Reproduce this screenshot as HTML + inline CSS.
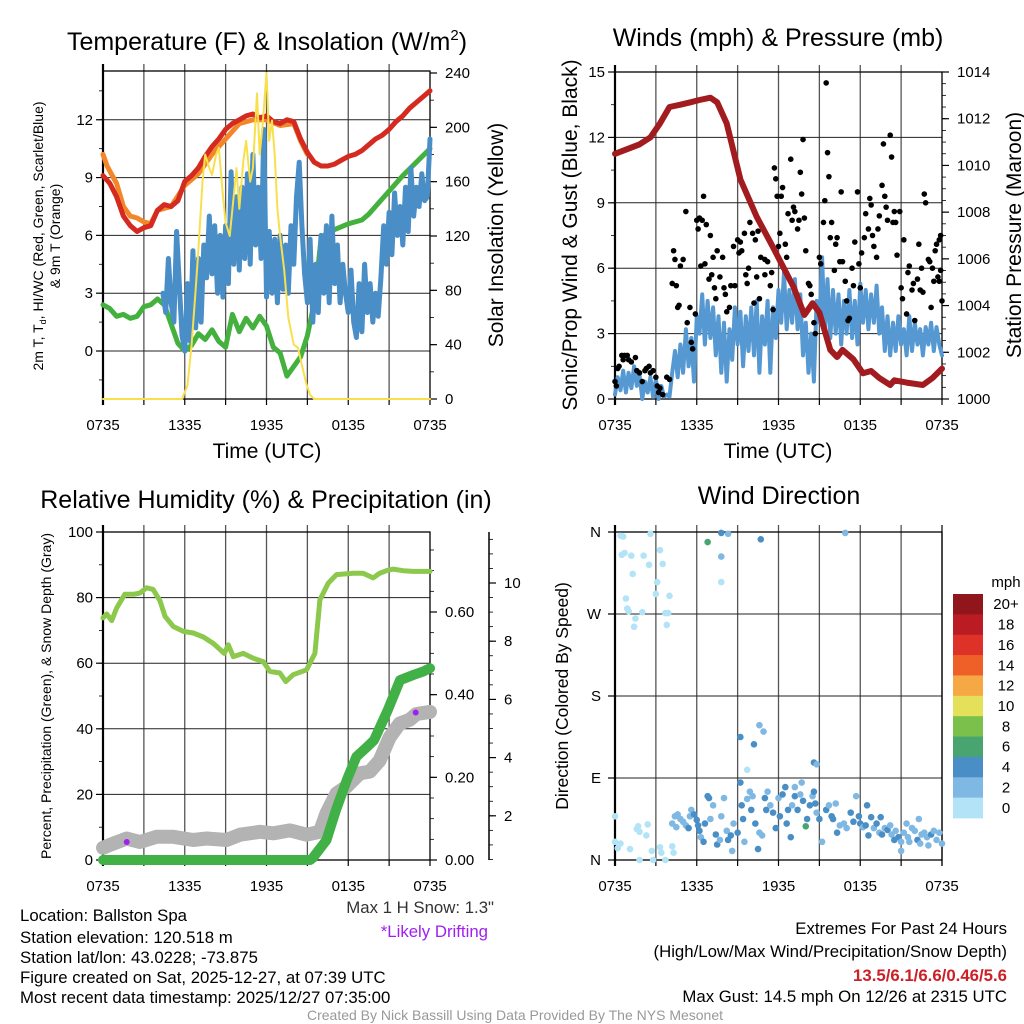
<!DOCTYPE html>
<html><head><meta charset="utf-8"><title>Ballston Spa Meteogram</title>
<style>
html,body{margin:0;padding:0;background:#fff;}
svg{display:block;font-family:"Liberation Sans",Arial,sans-serif;}
</style></head>
<body>
<svg id="chart" xmlns="http://www.w3.org/2000/svg" width="1024" height="1024" viewBox="0 0 1024 1024">
<rect x="0" y="0" width="1024" height="1024" fill="#fff"/>
<g id="layer"></g>
<g font-size="16.8" fill="#000">
<text x="20" y="921">Location: Ballston Spa</text>
<text x="20" y="943">Station elevation: 120.518 m</text>
<text x="20" y="963">Station lat/lon: 43.0228; -73.875</text>
<text x="20" y="983">Figure created on Sat, 2025-12-27, at 07:39 UTC</text>
<text x="20" y="1003">Most recent data timestamp: 2025/12/27 07:35:00</text>
<text x="494" y="913" text-anchor="end" fill="#333">Max 1 H Snow: 1.3"</text>
<text x="488" y="937" text-anchor="end" fill="#a020f0">*Likely Drifting</text>
<text x="1007" y="934" text-anchor="end">Extremes For Past 24 Hours</text>
<text x="1007" y="957" text-anchor="end">(High/Low/Max Wind/Precipitation/Snow Depth)</text>
<text x="1007" y="981" text-anchor="end" fill="#cc1f26" font-weight="bold">13.5/6.1/6.6/0.46/5.6</text>
<text x="1007" y="1002" text-anchor="end">Max Gust: 14.5 mph On 12/26 at 2315 UTC</text>
<text x="515" y="1020" text-anchor="middle" font-size="14" fill="#999">Created By Nick Bassill Using Data Provided By The NYS Mesonet</text>
</g>
</svg>
<script>
// ---------- DATA ----------
const timeTickLabels = ["0735","1335","1935","0135","0735"];
// Panel 1
const tempTicks = [0,3,6,9,12];
const solarTicks = [0,40,80,120,160,200,240];
const redHours = [0,0.5,1,1.5,2,2.5,3,3.5,4,4.5,5,5.5,6,6.5,7,7.5,8,8.5,9,9.5,10,10.5,11,11.5,12,12.5,13,13.5,14,14.5,15,15.5,16,16.5,17,17.5,18,18.5,19,19.5,20,20.5,21,21.5,22,22.5,23,23.5,24];
const redTemp = [9.1,8.7,8.0,7.0,6.5,6.2,6.4,6.5,7.3,7.6,7.5,7.8,8.8,9.1,9.5,10.1,10.6,11.0,11.5,11.8,12.0,12.2,12.3,12.1,12.2,11.9,11.8,12.0,11.9,11.0,10.3,9.8,9.6,9.6,9.7,9.9,10.1,10.2,10.4,10.7,11.0,11.2,11.5,11.9,12.2,12.6,12.9,13.2,13.5];
const orangeHours = [0,0.3,0.6,1,1.5,2,2.5,3,3.5,4,5,6,7,8,9,10,11,12,13,14,14.5,15];
const orangeTemp = [10.2,9.6,9.2,8.7,7.5,7.0,6.9,6.7,6.6,7.3,7.5,8.6,9.2,10.2,11.0,11.8,12.0,12.0,11.7,11.8,10.9,10.2];
const greenHours = [0,0.5,1,1.5,2,2.5,3,3.5,4,4.5,5,5.5,6,6.5,7,7.5,8,8.5,9,9.5,10,10.5,11,11.5,12,12.5,13,13.5,14,14.5,15,15.5,16,16.5,17,18,19,19.5,20,21,22,23,24];
const greenTemp = [2.4,2.2,1.8,1.9,1.7,1.8,2.3,2.4,2.7,2.4,1.4,0.4,0.0,0.3,0.9,0.6,1.1,0.5,0.2,1.9,1.0,1.7,1.2,1.8,1.3,0.2,-0.1,-1.3,-0.8,-0.3,0.8,2.5,5.8,6.2,6.3,6.6,6.8,7.1,7.5,8.3,9.1,9.8,10.5];
const blueStart = 4.4, blueStep = 0.2;
const blueTemp = [3,2,4.8,2.5,1.5,6.2,3.5,0.8,0,3.5,0.5,5.2,1.2,4.8,1.5,5.5,3.8,7,4,6.5,3,6,2.8,6.5,3.5,9.3,4.5,8,4.2,8.5,4.8,9.2,4.5,10.2,5.5,8.5,4.8,11.5,2.8,6.2,3,5.8,2.5,6,3.2,5.5,3,6.5,4.5,8,9.8,6.5,4,2.5,5.8,1.5,4.5,2,6,3,6.5,2.5,7,3.5,5.5,2.5,4.5,3,2,4.2,1.5,0.7,3.5,1,4.5,2,3.5,1.5,3,1.8,3.8,6.5,4.5,7.2,5,8.2,6,7.5,5.5,8.5,6.2,9.5,7,8.5,7.5,9.2,7.8,8,11];
const solarHours = [0,5.8,6.2,6.5,6.8,7.0,7.3,7.5,7.8,8.0,8.3,8.5,8.8,9.0,9.3,9.6,9.8,10.0,10.3,10.5,10.8,11.0,11.3,11.5,11.7,12.0,12.2,12.4,12.6,12.8,13.0,13.3,13.6,14.0,14.3,14.6,14.9,15.2,15.5,24];
const solarVals = [0,0,10,40,80,110,160,180,170,165,180,185,150,130,120,150,170,140,175,190,160,170,225,180,200,240,190,205,180,140,120,95,60,40,38,25,12,3,0,0];
// Panel 2
const windTicks = [0,3,6,9,12,15];
const presTicks = [1000,1002,1004,1006,1008,1010,1012,1014];
const presHours = [0,1.8,2.6,3.3,4.0,4.8,5.5,6.2,7.0,7.5,8.2,9.2,10.4,11.6,13.1,13.9,14.5,15.0,15.8,16.3,16.7,17.5,18.2,18.8,19.4,20.2,20.5,21.4,22.6,23.3,24];
const presVals = [1010.5,1010.9,1011.2,1011.8,1012.5,1012.6,1012.7,1012.8,1012.9,1012.7,1011.8,1009.4,1007.8,1006.5,1004.8,1003.6,1004.1,1003.7,1002.1,1001.8,1002.1,1001.7,1001.1,1001.2,1000.9,1000.6,1000.8,1000.7,1000.6,1000.9,1001.3];
const windStart = 0, windStep = 0.2;
const windVals = [0.2,1,0.4,1.3,0.3,1.2,0.5,1.5,0.6,1.1,0,0.8,0.3,1,0.1,0.9,0,0.6,0.1,0.2,0.1,1.2,2.2,1,2.5,1.2,3.2,1.5,2.8,0.8,3.8,3,4.8,2.5,4.5,2.8,4.2,2,3.8,1.2,3.5,0.8,3.2,1.8,4.2,2.5,4,1.5,3.8,2.2,4.2,2,4.5,1.2,3.8,2.5,4.5,1.2,4.2,2.8,5,3.5,5.8,3.2,5,3.5,5.5,3.2,4.8,2,3.5,1.2,3,0.8,4.5,3.5,6.5,3,5.5,2.8,5,3,4.8,2.5,4.5,3,5,2.8,4.5,2.5,5.3,3.5,5,3.2,4.8,3.5,5.2,3,4.2,2.2,3.8,2,3.5,2.2,3.8,2.5,3.2,2,3.8,2.2,3.5,2.5,3.2,2,3.3,2.5,3.5,2.2,3.3,2.5,2];
const gustHours = [0,0.1,0.2,0.3,0.5,0.6,0.7,0.9,1,1.2,1.5,1.6,1.8,2,2.2,2.3,2.5,2.6,2.8,3,3.1,3.2,3.3,3.5,3.8,4,4.2,4.3,4.4,4.5,4.6,4.7,4.8,5.0,5.2,5.3,5.5,5.6,5.7,5.9,6,6.1,6.2,6.3,6.4,6.5,6.6,6.7,6.9,7,7.1,7.2,7.3,7.4,7.5,7.7,7.9,8.0,8.1,8.2,8.4,8.5,8.7,8.8,9,9.1,9.2,9.3,9.5,9.6,9.7,9.8,9.9,10.1,10.2,10.3,10.4,10.5,10.6,10.7,10.8,11,11,11.2,11.4,11.5,11.6,11.7,11.8,11.9,12,12.1,12.2,12.3,12.5,12.6,12.7,12.9,13,13.1,13.2,13.4,13.5,13.6,13.7,13.8,13.9,14,14.2,14.3,14.4,14.6,14.7,15,15.1,15.3,15.4,15.5,15.6,15.7,15.8,15.9,16.1,16.2,16.3,16.5,16.6,16.7,16.9,17,17.1,17.2,17.4,17.5,17.6,17.8,17.9,18,18.1,18.3,18.4,18.6,18.7,18.8,18.9,19,19.2,19.3,19.4,19.6,19.7,19.8,19.9,20,20.2,20.3,20.4,20.5,20.6,20.7,20.9,21,21.1,21.2,21.4,21.5,21.6,21.8,21.9,22.0,22.2,22.3,22.4,22.5,22.6,22.7,22.8,23,23.1,23.2,23.3,23.4,23.5,23.6,23.7,23.8,23.9,24,23.9,23.8];
const gustVals = [0.8,0.6,1.4,1.5,2,1.8,2,2,1.8,1.7,1.9,1.3,1.2,0.8,1.3,1.4,1.5,1.2,1.3,1,0.6,0.3,0.5,0.2,1,0.9,5.3,6.8,6.4,5.2,4.2,4.3,6.1,6.4,8.6,3.5,4.2,2.6,2.3,3.9,8.2,7.8,8.3,6.1,8.2,9.3,6.2,8,5.5,7.5,5.7,6.5,5.1,4.6,6.8,5.6,6.5,5.1,4.8,4,4.2,5.2,7,5.2,7.3,6.7,7.2,6.8,7.6,5.7,5.3,6,8.1,7.6,4.4,7.3,5.6,7.7,4.6,6.5,7.9,5.7,6.4,6.3,5.2,5.8,4.1,10.6,10.1,9.3,7,7.6,9.3,9.7,7.1,6.5,8.5,11,8.2,8.8,8.6,7.8,8.2,10.4,9.4,11.9,8.3,6.8,5.3,5.2,4.8,3.5,3,6.5,6.2,8.1,9.1,14.5,11.3,10.2,7.4,8.1,5.9,7.1,7.4,6.3,9.5,6.3,5.4,4.5,3.6,3.7,6,5.2,7.2,9.5,6.2,5.1,6.7,7.4,8.5,7.8,9.2,8.9,7.5,7,6.5,7.8,8.4,9.8,11.7,9.3,8.8,8.2,12.1,11.1,8.1,8.6,8.1,6.6,8.6,5.1,4.6,7.3,3.9,5.8,6.1,5,5.3,3.6,5.5,7.1,5,6,4.9,9.4,9,6.4,6.3,4.2,6,5.4,6.8,7.1,5.6,7.3,5.9,4.5,7.5,5.4];
// Panel 3
const rhTicks = [0,20,40,60,80,100];
const precipTicks = [0,0.2,0.4,0.6];
const precipTickLabels = ["0.00","0.20","0.40","0.60"];
const snowTicks = [2,4,6,8,10];
const rhHours = [0,0.27,0.64,1.0,1.6,2.25,2.71,3.2,3.68,4.18,4.55,5.16,5.9,6.63,7.37,8.1,8.9,9.2,9.56,10.29,11.03,11.76,12.25,12.98,13.42,13.96,14.94,15.55,15.92,16.53,17.14,18.36,19.09,19.83,20.3,20.8,21.3,22.03,22.76,24];
const rhVals = [73.8,75,73,76.8,81,81,81.4,83,82.5,79,74.3,71.2,69.7,69.2,68,66,63,65.6,62,63,61.5,60.5,57.5,57,54.4,56.5,58,63,79.3,84.4,87,87.4,87.4,86,87.4,88.2,88.7,88.2,88,88];
const precipHours = [0,15.2,15.4,16.4,17.1,17.9,18.6,19.4,19.9,20.9,21.8,22.8,23.5,24];
const precipVals = [0,0,0.005,0.048,0.121,0.194,0.25,0.274,0.29,0.363,0.435,0.448,0.456,0.464];
const snowHours = [0,0.5,1.74,2.71,3.93,5.16,6.62,7.6,9.07,10.05,11.52,12.5,13.72,14.94,15.92,16.4,17.14,17.87,18.85,19.58,20.3,21.04,21.77,22.5,23.0,24];
const snowVals = [0.9,1.0,1.22,1.1,1.28,1.28,1.17,1.22,1.17,1.35,1.45,1.4,1.5,1.35,1.45,2.08,2.77,3.0,3.46,3.52,3.9,4.7,5.17,5.3,5.5,5.57];
const driftHours = [1.74,22.95];
const driftVals = [1.1,5.55];
// Panel 4
const dirLabels = ["N","E","S","W","N"];
const dirTicks = [0,90,180,270,360];
const speedBins = ["0","2","4","6","8","10","12","14","16","18","20+"];
const speedColors = ["#b3e3f7","#7fb8e3","#4a8ec6","#48a56f","#7bc04b","#e4e05a","#f5a843","#ef6029","#de3127","#bb1c24","#90161b"];
const dirHours = [0.4,0.6,2.6,0.5,0.7,1.2,2.1,3.3,1.3,2.5,3.5,3.1,3.0,4.0,0.8,0.9,1.0,2.0,1.5,1.4,3.7,3.9,3.8,0,0,0.4,0.2,1.1,1.8,2.8,3.7,1.7,1.8,2.4,2.3,3.3,3.4,4.2,4.3,2.7,1.6,
4.2,4.4,4.6,4.5,4.8,5.0,5.2,5.4,5.5,5.6,5.8,6.0,6.1,6.2,6.3,6.5,6.6,6.8,6.9,7.0,7.2,7.4,7.5,7.7,7.8,8.0,8.2,8.3,8.5,8.6,8.7,9.0,9.2,9.3,9.4,9.5,9.7,9.9,10.0,10.1,10.3,10.5,10.6,10.8,11.0,11.1,11.2,11.4,11.6,11.8,12.0,12.1,12.3,12.5,12.6,12.7,12.9,13.0,13.2,13.4,13.6,13.7,13.8,14.1,14.3,14.5,14.6,14.7,14.8,15.0,15.2,15.5,15.7,15.9,16.0,16.2,16.3,16.5,16.8,17.0,17.3,17.5,17.7,17.9,18.0,18.2,18.4,18.5,18.6,18.8,19.0,19.2,19.4,19.5,19.6,19.8,20.0,20.2,20.3,20.5,20.6,20.8,21.0,21.2,21.4,21.5,21.6,21.8,22.0,22.2,22.4,22.5,22.7,22.9,23.0,23.2,23.4,23.6,23.8,24,21.0,22.3,
13.2,14.0,6.8,7.8,8.3,10.7,7.8,7.8,16.9,10.6,10.9,9.2,10.2,14.6,9.7,14.8];
const dirDegs = [356,355,358,335,337,334,334,340,314,324,325,305,292,290,287,276,273,272,265,256,271,271,258,48,20,18,13,12,0,0,0,37,31,39,27,14,8,15,8,10,34,
40,48,50,36,45,42,38,35,48,55,50,44,38,32,25,20,40,70,68,45,60,28,17,22,48,68,32,22,27,10,40,30,85,60,45,20,67,75,55,70,40,12,30,27,68,55,75,60,52,35,68,48,72,80,40,55,25,60,70,55,72,85,65,45,60,70,75,62,52,45,20,55,60,48,45,62,30,38,40,35,52,42,70,48,40,36,38,60,27,47,35,40,30,47,28,35,33,38,28,22,32,25,20,30,40,25,20,35,32,22,18,28,30,25,16,28,32,22,30,18,10,45,
80,37,349,359,358,352,333,305,359,148,141,135,127,107,99,105];
const dirSpeeds = [0.5,0.5,0.5,0.5,0.5,0.5,0.5,0.5,0.5,0.5,0.5,0.5,0.5,0.5,0.5,0.5,0.5,0.5,0.5,0.5,0.5,0.5,0.5,0.5,0.5,0.5,0.5,0.5,0.5,0.5,0.5,0.5,0.5,0.5,0.5,0.5,0.5,0.5,0.5,0.5,0.5,
2,2,2.5,2,2,1.5,2,3.5,2,2,3.5,3.5,3.5,3.5,2,3.5,3.5,3.5,3.5,1.5,2,3.5,3.5,2,2,2,2,3.5,3.5,2,2,3.5,3.5,3.5,3.5,2,2,2,3.5,2,3.5,3.5,2,2,3.5,3.5,2,2,3.5,3.5,2,3.5,3.5,3.5,3.5,3.5,3.5,2,3.5,3.5,2,2,3.5,3.5,3.5,2,3.5,3.5,2,3.5,2,3.5,2,3.5,3.5,2,3.5,2,2,2,3.5,3.5,2,3.5,3.5,2,3.5,3.5,3.5,3.5,2,3.5,2,3.5,3.5,2,3.5,2,2,3.5,2,3.5,2,2,2,2,2,2,2,3.5,2,2,2,2,2,3.5,2,2,2,2,2,2,2,
5.5,5.5,3.5,2,3.5,2,0.5,2,2,2,3.5,3.5,3.5,0.5,2,0.5];

// ---------- HELPERS ----------
const NS = "http://www.w3.org/2000/svg";
const layer = document.getElementById("layer");
function mk(tag, attrs, parent) {
  const e = document.createElementNS(NS, tag);
  for (const k in attrs) e.setAttribute(k, attrs[k]);
  (parent || layer).appendChild(e);
  return e;
}
function txt(x, y, s, size, anchor, parent) {
  const t = mk("text", {x: x, y: y, "font-size": size, "text-anchor": anchor || "middle", fill: "#000"}, parent);
  t.textContent = s;
  return t;
}
function timeScale(p) { return h => p.x0 + h / 24 * (p.x1 - p.x0); }
function linScale(p, lo, hi) { return v => p.y1 - (v - lo) / (hi - lo) * (p.y1 - p.y0); }
function pathD(xs, ys, fx, fy) {
  let d = "";
  for (let i = 0; i < xs.length; i++) d += (i ? "L" : "M") + fx(xs[i]).toFixed(1) + "," + fy(ys[i]).toFixed(1);
  return d;
}
function seqHours(start, step, n) { const a = []; for (let i = 0; i < n; i++) a.push(start + i * step); return a; }

function frame(p, name, hGrid) {
  const g = mk("g", {});
  
  
  const fx = timeScale(p);
  for (let h = 3; h < 24; h += 3) {
    const gl = mk("line", {x1: fx(h), x2: fx(h), y1: p.y0 - 7, y2: p.y1, stroke: "#555", "stroke-width": 1.3}, g);
    
    
  }
  hGrid.forEach(y => {
    const hl = mk("line", {x1: p.x0, x2: p.x1, y1: y, y2: y, stroke: "#222", "stroke-width": 1}, g);
    
    
  });
  for (let h = 0; h <= 24; h += 3) {
    const tk = mk("line", {x1: fx(h), x2: fx(h), y1: p.y1, y2: p.y1 + 6, stroke: "#000", "stroke-width": 1.2}, g);
    
    
  }
  timeTickLabels.forEach((s, i) => {
    const t = txt(fx(i * 6), p.y1 + 31, s, 15, "middle", g);
    
    
  });
  const box = mk("rect", {x: p.x0, y: p.y0, width: p.x1 - p.x0, height: p.y1 - p.y0, fill: "none", stroke: "#000", "stroke-width": 1.3}, g);
  
  
  const lt = mk("line", {x1: p.x0, x2: p.x0, y1: p.y0 - 7, y2: p.y1 + 6, stroke: "#000", "stroke-width": 2.2}, g);
  
  
  return g;
}
function yTicks(g, x, vals, fy, labels, dir, minorStep, lo, hi, labelDx) {
  vals.forEach((v, i) => {
    const y = fy(v);
    const tk = mk("line", {x1: x, x2: x + dir * 7, y1: y, y2: y, stroke: "#000", "stroke-width": 1.2}, g);
    
    
    const t = txt(x + labelDx, y + 5, labels[i], 15, dir < 0 ? "end" : "start", g);
    
    
  });
  if (minorStep) {
    for (let v = lo; v <= hi + 1e-9; v += minorStep) {
      const y = fy(v);
      const mt = mk("line", {x1: x, x2: x + dir * 4, y1: y, y2: y, stroke: "#000", "stroke-width": 0.8}, g);
      
      
    }
  }
}
function series(d, color, w, name, parent) {
  const e = mk("path", {d: d, fill: "none", stroke: color, "stroke-width": w, "stroke-linejoin": "round", "stroke-linecap": "round"}, parent);
  
  
  return e;
}
function title(x, y, s, size, name) {
  const t = txt(x, y, s, size, "middle");
  
  
  return t;
}
function vtitle(x, y, s, size, name) {
  const t = mk("text", {x: 0, y: 0, "font-size": size, "text-anchor": "middle", fill: "#000", transform: "translate(" + x + "," + y + ") rotate(-90)"});
  t.textContent = s;
  
  
  return t;
}

// ---------- PANEL 1 ----------
const P1 = {x0: 103, x1: 430, y0: 71, y1: 399};
const fx1 = timeScale(P1);
const fyT = linScale(P1, -2.49, 14.53);
const fyS = linScale(P1, 0, 240 * 328 / 326);
const g1 = frame(P1, "temperature", tempTicks.map(fyT));
yTicks(g1, P1.x0, tempTicks, fyT, tempTicks.map(String), -1, 1.5, -1.5, 14, -10);
yTicks(g1, P1.x1, solarTicks, fyS, solarTicks.map(String), 1, 20, 0, 240, 15);
const s1 = mk("g", {});


series(pathD(orangeHours, orangeTemp, fx1, fyT), "#f4862a", 5, "line-9m-temp", s1);
series(pathD(redHours, redTemp, fx1, fyT), "#d42a20", 5, "line-2m-temp", s1);
series(pathD(greenHours, greenTemp, fx1, fyT), "#44b13f", 5, "line-dewpoint", s1);
series(pathD(seqHours(blueStart, blueStep, blueTemp.length), blueTemp, fx1, fyT), "#4a8ec8", 5, "line-windchill", s1);
series(pathD(solarHours, solarVals, fx1, fyS), "#f8e04c", 2, "line-solar-insolation", s1);
const tt1 = mk("text", {x: 267, y: 50, "font-size": 25, "text-anchor": "middle", fill: "#000"});


tt1.innerHTML = 'Temperature (F) &amp; Insolation (W/m<tspan font-size="15" dy="-10">2</tspan><tspan dy="10">)</tspan>';
title(267, 458, "Time (UTC)", 21, "temperature-x-axis-title");
const yt1 = mk("text", {x: 0, y: 0, "font-size": 14, "text-anchor": "middle", fill: "#000", transform: "translate(43,236) rotate(-90)"});


yt1.innerHTML = '2m T, T<tspan font-size="9" dy="3">d</tspan><tspan dy="-3">, HI/WC (Red, Green, Scarlet/Blue)</tspan>';
vtitle(60, 236, "& 9m T (Orange)", 14, "temperature-y-axis-title-line2");
vtitle(503, 235, "Solar Insolation (Yellow)", 21, "solar-y-axis-title");

// ---------- PANEL 2 ----------
const P2 = {x0: 615, x1: 942, y0: 72, y1: 399};
const fx2 = timeScale(P2);
const fyW = linScale(P2, 0, 15);
const fyP = linScale(P2, 1000, 1014);
const g2 = frame(P2, "winds", windTicks.slice(1, 5).map(fyW));
yTicks(g2, P2.x0, windTicks, fyW, windTicks.map(String), -1, 1.5, 0, 15, -10);
yTicks(g2, P2.x1, presTicks, fyP, presTicks.map(String), 1, 0.5, 1000, 1014, 15);
const s2 = mk("g", {});


series(pathD(seqHours(windStart, windStep, windVals.length), windVals, fx2, fyW), "#5598d2", 4, "line-sustained-wind", s2);
gustHours.forEach((h, i) => {
  const c = mk("circle", {cx: fx2(h), cy: fyW(gustVals[i]), r: 2.8, fill: "#000"}, s2);
  
  
});
series(pathD(presHours, presVals, fx2, fyP), "#a11b1f", 6, "line-station-pressure", s2);
title(778, 46, "Winds (mph) & Pressure (mb)", 25, "winds-chart-title");
title(778, 458, "Time (UTC)", 21, "winds-x-axis-title");
vtitle(577, 235, "Sonic/Prop Wind & Gust (Blue, Black)", 21, "winds-y-axis-title");
vtitle(1021, 235, "Station Pressure (Maroon)", 21, "pressure-y-axis-title");

// ---------- PANEL 3 ----------
const P3 = {x0: 103, x1: 430, y0: 532, y1: 860};
const fx3 = timeScale(P3);
const fyR = linScale(P3, 0, 100);
const fyPr = linScale(P3, 0, 0.2 * 328 / 82.67);
const fySn = v => 874 - v * 29.1;
const g3 = frame(P3, "humidity", [20, 40, 60, 80].map(fyR));
yTicks(g3, P3.x0, rhTicks, fyR, rhTicks.map(String), -1, 10, 0, 100, -10);
yTicks(g3, P3.x1, precipTicks, fyPr, precipTickLabels, 1, 0.05, 0, 0.75, 15);
const snAx = mk("line", {x1: 489, x2: 489, y1: 532, y2: 860, stroke: "#000", "stroke-width": 1.5}, g3);


yTicks(g3, 489, snowTicks, fySn, snowTicks.map(String), 1, 0.5, 0.5, 11.5, 15);
const s3 = mk("g", {});


series(pathD(snowHours, snowVals, fx3, fySn), "#b3b3b3", 14, "line-snow-depth", s3);
series(pathD(rhHours, rhVals, fx3, fyR), "#8cc84b", 5, "line-relative-humidity", s3);
series(pathD(precipHours, precipVals, fx3, fyPr), "#41b046", 10, "line-precipitation", s3);
driftHours.forEach((h, i) => {
  const c = mk("circle", {cx: fx3(h), cy: fySn(driftVals[i]), r: 3, fill: "#a020f0"}, s3);
  
  
});
title(266, 508, "Relative Humidity (%) & Precipitation (in)", 25, "humidity-chart-title");
vtitle(51, 696, "Percent, Precipitation (Green), & Snow Depth (Gray)", 14, "humidity-y-axis-title");

// ---------- PANEL 4 ----------
const P4 = {x0: 615, x1: 942, y0: 532, y1: 860};
const fx4 = timeScale(P4);
const fyD = linScale(P4, 0, 360);
const g4 = frame(P4, "direction", [90, 180, 270].map(fyD));
yTicks(g4, P4.x0, dirTicks, fyD, dirLabels, -1, 0, 0, 0, -14);
const rt = mk("line", {x1: P4.x1, x2: P4.x1, y1: P4.y0 - 7, y2: P4.y1 + 6, stroke: "#000", "stroke-width": 1.2}, g4);


const s4 = mk("g", {});


dirHours.forEach((h, i) => {
  const bin = Math.min(10, Math.floor((dirSpeeds[i] + 1) / 2));
  const c = mk("circle", {cx: fx4(h), cy: fyD(dirDegs[i]), r: 3.3, fill: speedColors[bin]}, s4);
  
  
});
title(779, 504, "Wind Direction", 25, "direction-chart-title");
vtitle(568, 696, "Direction (Colored By Speed)", 17.5, "direction-y-axis-title");
// colorbar
const cb = mk("g", {});


const cbTop = 594, cbH = 224 / speedBins.length;
speedBins.forEach((lab, i) => {
  const j = speedBins.length - 1 - i;
  const r = mk("rect", {x: 953, y: cbTop + i * cbH, width: 30, height: cbH + 0.4, fill: speedColors[j]}, cb);
  
  
  const t = txt(1006, cbTop + i * cbH + cbH / 2 + 5, speedBins[j], 15, "middle", cb);
  
  
});
const mph = txt(1006, 587, "mph", 15, "middle", cb);


</script>
</body></html>
